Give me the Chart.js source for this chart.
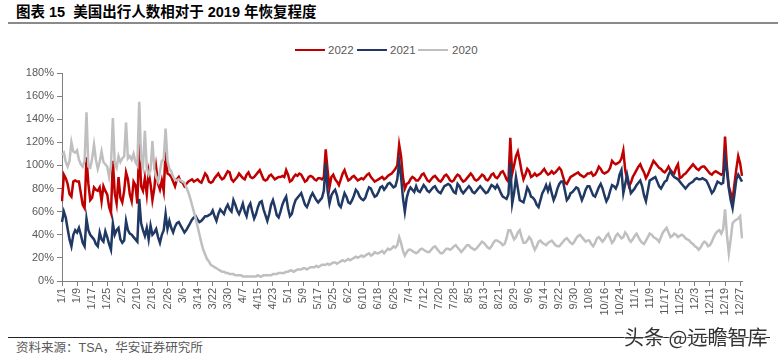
<!DOCTYPE html>
<html lang="zh">
<head>
<meta charset="UTF-8">
<title>美国出行人数相对于2019年恢复程度</title>
<script src="https://cdn.jsdelivr.net/npm/chart.js"></script>
<style>
  body { margin: 0; background: #fff; }
  .page { position: relative; width: 778px; height: 358px; overflow: hidden; background: #fff;
          font-family: 'Liberation Sans', Arial, sans-serif; }
  .title { position: absolute; left: 16px; top: 3px; font-size: 14.5px; line-height: 18px; font-weight: bold;
           font-family: 'Liberation Sans', 'Noto Sans CJK SC', sans-serif; color: #000; white-space: nowrap; }
  .rule-top { position: absolute; left: 8px; top: 22px; width: 770px; height: 2px; background: #8a8a8a; }
  .lg-line { position: absolute; top: 49px; width: 30px; height: 2px; }
  .lg-text { position: absolute; top: 43px; font-size: 11.5px; line-height: 14px; color: #595959; }
  .chart-box { position: absolute; left: 0; top: 63px; width: 778px; height: 265px; }
  .rule-bottom { position: absolute; left: 8px; top: 337px; width: 762px; height: 1px; background: #222; }
  .source { position: absolute; left: 16px; top: 340px; font-size: 12.5px; line-height: 16px; color: #595959;
            font-family: 'Liberation Sans', 'Noto Sans CJK SC', sans-serif; white-space: nowrap; }
  .mark { position: absolute; left: 624px; top: 325px; font-size: 20px; line-height: 24px; color: #333;
          font-family: 'Noto Sans CJK SC', sans-serif; white-space: nowrap;
          text-shadow: 0 0 2px #fff, 0 0 2px #fff, 0 0 3px #fff; }
</style>
</head>
<body>
<div class="page">
  <div class="title">图表 15&nbsp; 美国出行人数相对于 2019 年恢复程度</div>
  <div class="rule-top"></div>

  <div class="lg-line" style="left:295px;background:#C00000"></div>
  <div class="lg-text" style="left:328px">2022</div>
  <div class="lg-line" style="left:357px;background:#1F3864"></div>
  <div class="lg-text" style="left:390px">2021</div>
  <div class="lg-line" style="left:418px;background:#BFBFBF"></div>
  <div class="lg-text" style="left:452px">2020</div>

  <div class="chart-box"><canvas id="chart"></canvas></div>

  <div class="rule-bottom"></div>
  <div class="source">资料来源：TSA，华安证券研究所</div>
  <div class="mark">头条 @远瞻智库</div>
</div>

<script>
  // daily categories 1/1 .. 12/28
  const monthDays = [31, 28, 31, 30, 31, 30, 31, 31, 30, 31, 30, 31];
  const days = [];
  for (let m = 0; m < 12 && days.length < 362; m++) {
    for (let d = 1; d <= monthDays[m] && days.length < 362; d++) {
      days.push((m + 1) + '/' + d);
    }
  }

  // recovery vs 2019, % (one row = one week)
  const y2022 = [
    69, 92, 89, 84, 75, 73, 86,
    87, 86, 86, 76, 66, 63, 107,
    84, 70, 72, 81, 79, 78, 81,
    69, 82, 78, 75, 64, 59, 104,
    76, 67, 90, 72, 68, 78, 94,
    88, 75, 69, 86, 83, 67, 119,
    82, 78, 89, 75, 94, 84, 70,
    80, 98, 84, 79, 87, 78, 112,
    93, 92, 90, 86, 82, 88, 90,
    86, 85, 82, 84, 86, 87, 88,
    86, 87, 88, 86, 85, 89, 93,
    91, 86, 85, 86, 89, 91, 93,
    90, 88, 89, 92, 95, 94, 88,
    86, 88, 90, 93, 91, 89, 88,
    92, 94, 90, 89, 90, 92, 94,
    96, 92, 88, 87, 88, 91, 92,
    90, 88, 89, 90, 90, 91, 90,
    96, 92, 86, 87, 90, 92, 91,
    93, 92, 89, 86, 87, 90, 91,
    90, 88, 87, 89, 89, 88, 90,
    114, 96, 81, 90, 92, 88, 86,
    83, 88, 93, 96, 91, 87, 88,
    90, 91, 89, 87, 88, 89, 88,
    90, 92, 93, 90, 88, 86, 87,
    88, 89, 90, 88, 89, 91, 92,
    93, 95, 97, 100, 118, 108, 90,
    80, 84, 85, 88, 90, 89, 87,
    87, 89, 92, 93, 90, 87, 86,
    88, 90, 91, 89, 87, 86, 88,
    91, 92, 90, 87, 86, 87, 90,
    92, 91, 88, 86, 87, 89, 91,
    93, 91, 88, 87, 88, 90, 92,
    91, 88, 87, 89, 92, 93, 90,
    89, 91, 94, 95, 92, 88, 86,
    124, 93, 100, 108, 112, 104, 95,
    88, 92, 97, 95, 90, 91, 93,
    91, 92, 93, 95, 97, 94, 92,
    93, 95, 93, 94, 96, 98, 96,
    90, 85, 84, 87, 90, 91, 92,
    93, 94, 92, 91, 90, 91, 93,
    93, 94, 91, 92, 95, 99, 97,
    94, 93, 94, 95, 98, 104, 102,
    101, 102, 103, 106, 113, 96, 88,
    82, 85, 90, 93, 96, 99, 101,
    97, 94, 89, 92, 96, 100, 104,
    102, 100, 98, 97, 95, 94, 96,
    99, 96, 94, 93, 98, 101, 89,
    90, 92, 93, 95, 97, 99, 101,
    99, 97, 96, 98, 99, 99, 97,
    95, 93, 92, 94, 95, 94, 93,
    92, 93, 125, 99, 82, 76, 70,
    84, 97, 108, 102, 91
  ];

  const y2021 = [
    51, 60, 55, 45, 36, 30, 40,
    44, 42, 46, 40, 33, 30, 54,
    44, 40, 38, 36, 32, 30, 42,
    36, 34, 43, 38, 32, 27, 50,
    40, 44, 46, 36, 33, 35, 52,
    44, 41, 40, 38, 36, 34, 71,
    50, 44, 39, 46, 36, 48, 40,
    42, 45, 38, 33, 40, 44, 58,
    45, 52, 46, 42, 47, 50, 51,
    48, 45, 42, 44, 47, 50, 53,
    55, 56, 53, 51, 52, 54, 56,
    56, 57, 58, 61, 56, 52, 58,
    62, 60, 58, 63, 66, 62, 60,
    70, 66, 61, 58, 62, 67, 60,
    56, 64, 67, 60, 54, 58, 64,
    68, 69, 62, 57, 52, 58, 66,
    70, 64, 57, 55, 60, 66, 70,
    73, 63, 56, 58, 65, 70, 72,
    74, 76, 71, 66, 64, 68, 73,
    76, 73, 70, 68, 70, 72, 78,
    102, 78, 67, 74, 77, 79, 74,
    66, 64, 70, 76, 73, 68, 67,
    70, 74, 79, 77, 73, 71, 70,
    72, 77, 81, 80, 76, 73, 74,
    77, 81, 82, 79, 81, 84, 85,
    83, 81, 82, 88, 103, 90, 72,
    60, 72, 78, 81, 79, 77, 82,
    78, 77, 80, 83, 81, 78, 77,
    79, 81, 82, 79, 77, 76, 79,
    82, 83, 84, 83, 80, 77, 76,
    84, 82, 78, 76, 78, 80, 82,
    80, 77, 76, 78, 80, 82, 80,
    78, 76, 77, 80, 83, 82, 80,
    83, 80, 76, 73, 72, 71, 75,
    102, 67, 76, 90, 80, 70, 69,
    68, 74, 81, 78, 73, 72, 70,
    66, 64, 70, 76, 79, 83, 78,
    83, 76, 70, 74, 80, 84, 86,
    86, 78, 70, 72, 76, 77, 79,
    81, 80, 75, 70, 74, 79, 82,
    82, 78, 74, 73, 77, 81, 84,
    80, 74, 69, 72, 78, 83, 82,
    80, 84, 92, 96, 76, 84, 92,
    84, 76, 78, 80, 83, 85, 87,
    82, 74, 69, 78, 87, 88, 89,
    90, 86, 82, 80, 83, 86, 87,
    92, 95, 92, 90, 89, 88, 86,
    84, 82, 80, 82, 84, 85, 86,
    88, 89, 88, 88, 89, 88, 87,
    84, 80, 76, 78, 82, 86, 85,
    84, 85, 106, 95, 80, 70, 63,
    75, 88, 92, 89, 86
  ];

  const y2020 = [
    109, 111, 103, 99, 104, 120, 112,
    111, 113, 105, 101, 99, 104, 146,
    99, 98, 106, 118, 105, 97, 103,
    112, 103, 101, 99, 90, 100, 141,
    102, 98, 108, 103, 106, 108, 137,
    106, 108, 105, 110, 103, 100, 155,
    106, 99, 130, 98, 92, 96, 121,
    97, 90, 86, 95, 104, 105, 132,
    104, 97, 95, 90, 88, 87, 88,
    87, 86, 85, 81, 77, 72, 66,
    60, 54, 47, 40, 33, 27, 23,
    19, 17, 14, 13, 12, 11, 10,
    9, 8, 8, 7, 7, 6, 6,
    6, 5, 5, 5, 5, 4, 4,
    4, 4, 4, 4, 4, 4, 5,
    4, 4, 5, 5, 5, 5, 5,
    6, 6, 6, 7, 7, 7, 7,
    8, 8, 9, 9, 8, 9, 10,
    10, 10, 11, 11, 10, 11, 12,
    12, 12, 13, 12, 13, 14, 14,
    14, 15, 14, 15, 16, 16, 15,
    16, 17, 18, 17, 18, 19, 18,
    19, 20, 21, 20, 21, 22, 21,
    22, 23, 24, 22, 23, 25, 24,
    24, 25, 26, 24, 26, 28, 27,
    28, 30, 29, 31, 38, 33, 26,
    22, 25, 27, 27, 26, 25, 24,
    25, 27, 28, 27, 26, 25, 25,
    27, 29, 30, 28, 26, 24, 24,
    26, 28, 28, 27, 28, 30, 31,
    29, 27, 25, 27, 29, 31, 31,
    29, 28, 27, 28, 30, 32, 34,
    33, 31, 29, 28, 30, 33, 35,
    35, 34, 33, 31, 32, 37, 44,
    44, 40, 36, 38, 42, 44, 38,
    33, 33, 35, 38, 36, 31, 27,
    30, 34, 35, 33, 32, 31, 33,
    34, 35, 33, 31, 30, 30, 32,
    34, 36, 37, 35, 33, 32, 34,
    37, 39, 40, 38, 36, 34, 35,
    35, 32, 30, 33, 37, 38, 36,
    34, 36, 39, 41, 37, 33, 35,
    39, 41, 39, 37, 38, 42, 40,
    36, 34, 36, 39, 41, 38, 35,
    33, 32, 35, 38, 41, 40, 38,
    37, 36, 34, 38, 42, 44, 46,
    42, 38, 39, 41, 40, 38, 39,
    40, 39, 37, 36, 35, 33, 32,
    30, 29, 27, 29, 32, 34, 33,
    30, 31, 34, 38, 41, 43, 44,
    41, 45, 62, 40, 24, 36, 50,
    52, 53, 54, 56, 37
  ];

  const yTicks = [0, 20, 40, 60, 80, 100, 120, 140, 160, 180];
  const labelEvery = 8;

  Chart.defaults.font.family = "'Liberation Sans', Arial, sans-serif";
  Chart.defaults.color = '#595959';

  const ctx = document.getElementById('chart').getContext('2d');
  new Chart(ctx, {
    type: 'line',
    data: {
      labels: days,
      datasets: [
        { label: '2022', data: y2022, borderColor: '#C00000', backgroundColor: '#C00000', order: 3 },
        { label: '2021', data: y2021, borderColor: '#1F3864', backgroundColor: '#1F3864', order: 2 },
        { label: '2020', data: y2020, borderColor: '#BFBFBF', backgroundColor: '#BFBFBF', order: 1 }
      ]
    },
    options: {
      responsive: true,
      maintainAspectRatio: false,
      animation: false,
      layout: { padding: { top: 10, right: 36, bottom: 0, left: 0 } },
      elements: {
        point: { radius: 0 },
        line: { borderWidth: 2.5, tension: 0 }
      },
      plugins: {
        legend: { display: false },
        tooltip: { enabled: false }
      },
      scales: {
        x: {
          grid: {
            drawOnChartArea: false,
            tickLength: 5,
            color: c => (c.index % labelEvery === 0 ? '#7f7f7f' : 'rgba(0,0,0,0)')
          },
          border: { color: '#7f7f7f' },
          ticks: {
            autoSkip: false,
            maxRotation: 90,
            minRotation: 90,
            padding: 2,
            font: { size: 11 },
            color: '#595959',
            callback: (v, i) => (i % labelEvery === 0 ? days[i] : '')
          },
          afterFit: s => { s.height = 47; }
        },
        y: {
          min: yTicks[0],
          max: yTicks[yTicks.length - 1],
          grid: { drawOnChartArea: false, tickLength: 5, color: '#7f7f7f' },
          border: { color: '#7f7f7f' },
          ticks: {
            stepSize: 20,
            padding: 3,
            font: { size: 11 },
            color: '#595959',
            callback: v => v + '%'
          },
          afterFit: s => { s.width = 62; }
        }
      }
    }
  });
</script>
</body>
</html>
